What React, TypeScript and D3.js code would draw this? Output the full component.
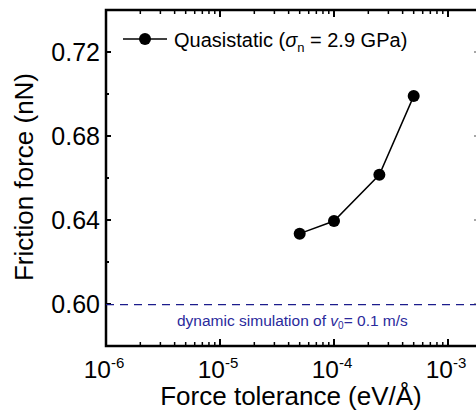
import React from "react";
import * as d3 from "d3";

const tolerances = [5e-5, 1e-4, 2.5e-4, 5e-4];
const frictionForces = [0.6335, 0.6395, 0.6615, 0.699];
const dynamicFriction = 0.5997;
const yTicks = [0.6, 0.64, 0.68, 0.72];
const yMinorTicks = [0.62, 0.66, 0.7];
const xDecades = [-6, -5, -4, -3];

const W = 476;
const H = 413;
const FONT = "'Liberation Sans', Arial, sans-serif";

export default function App() {
  const left = 106, right = 479, top = 10, bottom = 346;
  const x = d3.scaleLog().domain([1e-6, 10 ** (-6 + (right - left) / 114)]).range([left, right]);
  const y = d3.scaleLinear().domain([0.58, 0.74]).range([bottom, top]);

  const minor: number[] = [];
  for (let e = -6; e <= -3; e++) for (let m = 2; m <= 9; m++) {
    const v = m * 10 ** e;
    if (x(v) < right) minor.push(v);
  }
  const line = d3.line<number>().x((_, i) => x(tolerances[i])).y((d) => y(d));
  const yd = y(dynamicFriction);

  return (
    <svg width={W} height={H} style={{ position: "absolute", left: 0, top: 0, background: "#fff" }} fontFamily={FONT}>
      {/* x ticks bottom & top */}
      {xDecades.map((e) => (
        <g key={"M" + e}>
          <line x1={x(10 ** e)} x2={x(10 ** e)} y1={bottom} y2={bottom - 7} stroke="#000" strokeWidth={2} />
          <line x1={x(10 ** e)} x2={x(10 ** e)} y1={top} y2={top + 7} stroke="#000" strokeWidth={2} />
          <text x={x(10 ** e) - 2} y={378} textAnchor="middle" fontSize={24.5} fill="#000">
            10<tspan dy={-10} fontSize={15}>{e}</tspan>
          </text>
        </g>
      ))}
      {minor.map((v, i) => (
        <g key={"m" + i}>
          <line x1={x(v)} x2={x(v)} y1={bottom} y2={bottom - 4} stroke="#000" strokeWidth={1.5} />
          <line x1={x(v)} x2={x(v)} y1={top} y2={top + 4} stroke="#000" strokeWidth={1.5} />
        </g>
      ))}
      {/* y ticks */}
      {yTicks.map((t) => (
        <g key={"y" + t}>
          <line x1={left} x2={left + 5} y1={y(t)} y2={y(t)} stroke="#000" strokeWidth={2} />
          <line x1={right} x2={right - 5} y1={y(t)} y2={y(t)} stroke="#888" strokeWidth={1.5} />
          <text x={100} y={y(t) + 8.5} textAnchor="end" fontSize={25} fill="#000">{t.toFixed(2)}</text>
        </g>
      ))}
      {yMinorTicks.map((t) => (
        <g key={"ym" + t}>
          <line x1={left} x2={left + 3} y1={y(t)} y2={y(t)} stroke="#000" strokeWidth={2} />
        </g>
      ))}
      {/* frame */}
      <rect x={left} y={top} width={right - left} height={bottom - top} fill="none" stroke="#000" strokeWidth={2.5} />
      {/* dashed line */}
      <line x1={left} x2={right} y1={yd} y2={yd} stroke="#1c1c8c" strokeWidth={1.3} strokeDasharray="8,6" />
      <text x={177} y={326} fontSize={15.5} fill="#2a2a9c">
        dynamic simulation of <tspan fontStyle="italic">v</tspan><tspan fontSize={10} dy={3}>0</tspan><tspan dy={-3}>= 0.1 m/s</tspan>
      </text>
      {/* series */}
      <path d={line(frictionForces) || ""} fill="none" stroke="#000" strokeWidth={1.5} />
      {frictionForces.map((f, i) => (
        <circle key={i} cx={x(tolerances[i])} cy={y(f)} r={6} fill="#000" />
      ))}
      {/* legend */}
      <line x1={123} x2={167} y1={39} y2={39} stroke="#000" strokeWidth={1.5} />
      <circle cx={145} cy={39} r={6} fill="#000" />
      <text x={174} y={47} fontSize={20} fill="#000">
        Quasistatic (<tspan fontStyle="italic">σ</tspan><tspan fontSize={13} dy={5}>n</tspan><tspan dy={-5}> = 2.9 GPa)</tspan>
      </text>
      {/* axis titles */}
      <text x={291} y={405} textAnchor="middle" fontSize={26} fill="#000">Force tolerance (eV/Å)</text>
      <text transform="translate(33,177) rotate(-90)" textAnchor="middle" fontSize={26} fill="#000">Friction force (nN)</text>
    </svg>
  );
}
